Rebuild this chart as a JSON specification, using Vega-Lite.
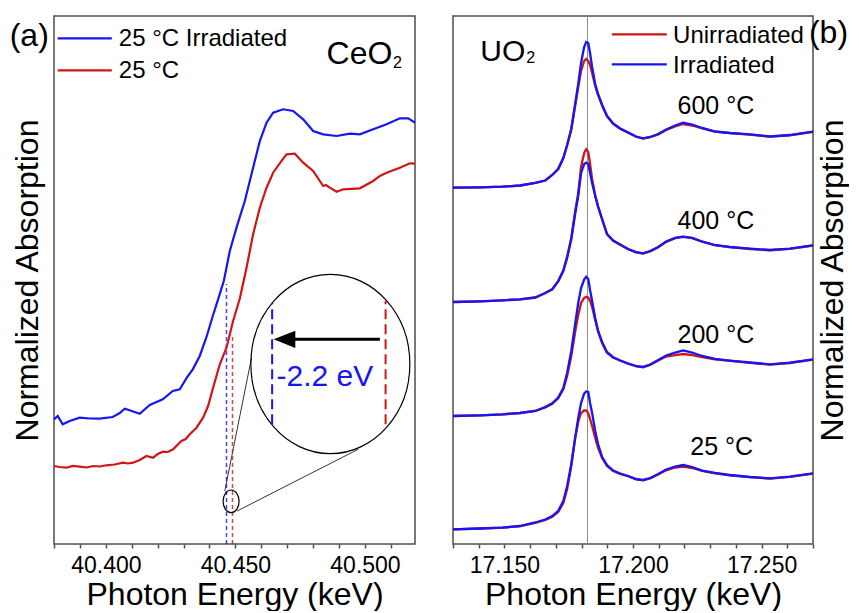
{
"$schema": "https://vega.github.io/schema/vega-lite/v6.json",
"background": "white",
"padding": {"left": 8, "top": 14, "right": 0, "bottom": 0},
"config": {
  "font": "Liberation Sans",
  "view": {"stroke": "#4d4d4d", "strokeWidth": 1.5},
  "axis": {"grid": false, "domain": false, "labelFont": "Liberation Sans", "labelFontSize": 23, "labelColor": "black", "titleFont": "Liberation Sans", "titleFontSize": 32, "titleFontWeight": "normal", "titleColor": "black", "tickColor": "#4d4d4d", "tickWidth": 1.5},
  "axisX": {"tickSize": 4, "labelPadding": 6, "titlePadding": 2, "labelOverlap": false, "labelFlush": false},
  "axisY": {"ticks": false, "labels": false, "titleFontSize": 32},
  "text": {"font": "Liberation Sans"}
},
"datasets": {
"ceo2": [
{"s":"Irr","E":40.38,"A":0.2834},{"s":"Irr","E":40.38143,"A":0.2909},{"s":"Irr","E":40.38336,"A":0.2720},{"s":"Irr","E":40.38606,"A":0.2795},{"s":"Irr","E":40.38992,"A":0.2870},{"s":"Irr","E":40.39378,"A":0.2852},{"s":"Irr","E":40.39764,"A":0.2848},{"s":"Irr","E":40.40266,"A":0.2886},{"s":"Irr","E":40.40537,"A":0.2977},{"s":"Irr","E":40.4073,"A":0.3075},{"s":"Irr","E":40.41,"A":0.3023},{"s":"Irr","E":40.41309,"A":0.2961},{"s":"Irr","E":40.41695,"A":0.3159},{"s":"Irr","E":40.42197,"A":0.3289},{"s":"Irr","E":40.42583,"A":0.3477},{"s":"Irr","E":40.42853,"A":0.3516},{"s":"Irr","E":40.43124,"A":0.3780},{"s":"Irr","E":40.43355,"A":0.3970},{"s":"Irr","E":40.43625,"A":0.4273},{"s":"Irr","E":40.43896,"A":0.4727},{"s":"Irr","E":40.44127,"A":0.5182},{"s":"Irr","E":40.44332,"A":0.5561},{"s":"Irr","E":40.44552,"A":0.5977},{"s":"Irr","E":40.44784,"A":0.6659},{"s":"Irr","E":40.45042,"A":0.7189},{"s":"Irr","E":40.45363,"A":0.7795},{"s":"Irr","E":40.45683,"A":0.8552},{"s":"Irr","E":40.45942,"A":0.9159},{"s":"Irr","E":40.46201,"A":0.9575},{"s":"Irr","E":40.46456,"A":0.9802},{"s":"Irr","E":40.46842,"A":0.9880},{"s":"Irr","E":40.47228,"A":0.9841},{"s":"Irr","E":40.47614,"A":0.9652},{"s":"Irr","E":40.48,"A":0.9386},{"s":"Irr","E":40.48386,"A":0.9311},{"s":"Irr","E":40.48903,"A":0.9273},{"s":"Irr","E":40.49417,"A":0.9325},{"s":"Irr","E":40.49803,"A":0.9311},{"s":"Irr","E":40.50317,"A":0.9425},{"s":"Irr","E":40.50834,"A":0.9539},{"s":"Irr","E":40.51347,"A":0.9675},{"s":"Irr","E":40.51668,"A":0.9675},{"s":"Irr","E":40.51927,"A":0.9575},
{"s":"Un","E":40.38,"A":0.1773},{"s":"Un","E":40.3822,"A":0.1750},{"s":"Un","E":40.38479,"A":0.1734},{"s":"Un","E":40.38722,"A":0.1773},{"s":"Un","E":40.38992,"A":0.1757},{"s":"Un","E":40.39263,"A":0.1739},{"s":"Un","E":40.39506,"A":0.1773},{"s":"Un","E":40.39764,"A":0.1761},{"s":"Un","E":40.40023,"A":0.1789},{"s":"Un","E":40.40344,"A":0.1807},{"s":"Un","E":40.40664,"A":0.1848},{"s":"Un","E":40.40846,"A":0.1830},{"s":"Un","E":40.4105,"A":0.1848},{"s":"Un","E":40.41309,"A":0.1909},{"s":"Un","E":40.41568,"A":0.2},{"s":"Un","E":40.41822,"A":0.1961},{"s":"Un","E":40.42004,"A":0.2045},{"s":"Un","E":40.42208,"A":0.2098},{"s":"Un","E":40.4239,"A":0.2091},{"s":"Un","E":40.42595,"A":0.2152},{"s":"Un","E":40.42919,"A":0.2341},{"s":"Un","E":40.43085,"A":0.2386},{"s":"Un","E":40.43239,"A":0.2493},{"s":"Un","E":40.43498,"A":0.2643},{"s":"Un","E":40.43753,"A":0.2870},{"s":"Un","E":40.43946,"A":0.3136},{"s":"Un","E":40.44139,"A":0.3552},{"s":"Un","E":40.44398,"A":0.4084},{"s":"Un","E":40.44656,"A":0.4461},{"s":"Un","E":40.44911,"A":0.5068},{"s":"Un","E":40.4517,"A":0.5580},{"s":"Un","E":40.45429,"A":0.6280},{"s":"Un","E":40.45683,"A":0.7039},{"s":"Un","E":40.45942,"A":0.7643},{"s":"Un","E":40.46201,"A":0.8098},{"s":"Un","E":40.46456,"A":0.8439},{"s":"Un","E":40.4678,"A":0.8705},{"s":"Un","E":40.46973,"A":0.8857},{"s":"Un","E":40.47293,"A":0.8870},{"s":"Un","E":40.47614,"A":0.8666},{"s":"Un","E":40.48,"A":0.8477},{"s":"Un","E":40.48386,"A":0.8136},{"s":"Un","E":40.4849,"A":0.8159},{"s":"Un","E":40.48645,"A":0.8098},{"s":"Un","E":40.48903,"A":0.8007},{"s":"Un","E":40.49158,"A":0.8061},{"s":"Un","E":40.49803,"A":0.8084},{"s":"Un","E":40.50317,"A":0.8250},{"s":"Un","E":40.50575,"A":0.8364},{"s":"Un","E":40.50834,"A":0.8439},{"s":"Un","E":40.51347,"A":0.8552},{"s":"Un","E":40.51734,"A":0.8652},{"s":"Un","E":40.51927,"A":0.8643}
],
"uo2": [
{"T":600,"s":"U","E":17.13,"A":0.8098},{"T":600,"s":"U","E":17.1406,"A":0.8107},{"T":600,"s":"U","E":17.1492,"A":0.8120},{"T":600,"s":"U","E":17.1561,"A":0.8148},{"T":600,"s":"U","E":17.162,"A":0.8205},{"T":600,"s":"U","E":17.1659,"A":0.8261},{"T":600,"s":"U","E":17.1686,"A":0.8386},{"T":600,"s":"U","E":17.1709,"A":0.8523},{"T":600,"s":"U","E":17.1729,"A":0.8773},{"T":600,"s":"U","E":17.1744,"A":0.9068},{"T":600,"s":"U","E":17.176,"A":0.9420},{"T":600,"s":"U","E":17.1775,"A":0.9955},{"T":600,"s":"U","E":17.1787,"A":1.0386},{"T":600,"s":"U","E":17.1798,"A":1.0750},{"T":600,"s":"U","E":17.181,"A":1.0977},{"T":600,"s":"U","E":17.1818,"A":1.1023},{"T":600,"s":"U","E":17.1826,"A":1.0977},{"T":600,"s":"U","E":17.1833,"A":1.0886},{"T":600,"s":"U","E":17.1841,"A":1.0705},{"T":600,"s":"U","E":17.1853,"A":1.0409},{"T":600,"s":"U","E":17.1864,"A":1.0205},{"T":600,"s":"U","E":17.188,"A":0.9966},{"T":600,"s":"U","E":17.1899,"A":0.9720},{"T":600,"s":"U","E":17.1923,"A":0.9550},{"T":600,"s":"U","E":17.195,"A":0.9440},{"T":600,"s":"U","E":17.1981,"A":0.9350},{"T":600,"s":"U","E":17.2012,"A":0.9255},{"T":600,"s":"U","E":17.2039,"A":0.9215},{"T":600,"s":"U","E":17.2067,"A":0.9245},{"T":600,"s":"U","E":17.2098,"A":0.9310},{"T":600,"s":"U","E":17.2129,"A":0.9410},{"T":600,"s":"U","E":17.2164,"A":0.9489},{"T":600,"s":"U","E":17.2195,"A":0.9545},{"T":600,"s":"U","E":17.223,"A":0.9511},{"T":600,"s":"U","E":17.2269,"A":0.9445},{"T":600,"s":"U","E":17.2319,"A":0.9370},{"T":600,"s":"U","E":17.2377,"A":0.9336},{"T":600,"s":"U","E":17.2455,"A":0.9306},{"T":600,"s":"U","E":17.2533,"A":0.9258},{"T":600,"s":"U","E":17.261,"A":0.9290},{"T":600,"s":"U","E":17.27,"A":0.9366},
{"T":600,"s":"I","E":17.13,"A":0.8098},{"T":600,"s":"I","E":17.1406,"A":0.8107},{"T":600,"s":"I","E":17.1492,"A":0.8120},{"T":600,"s":"I","E":17.1561,"A":0.8148},{"T":600,"s":"I","E":17.162,"A":0.8205},{"T":600,"s":"I","E":17.1659,"A":0.8261},{"T":600,"s":"I","E":17.1686,"A":0.8386},{"T":600,"s":"I","E":17.1709,"A":0.8523},{"T":600,"s":"I","E":17.1729,"A":0.8773},{"T":600,"s":"I","E":17.1744,"A":0.9068},{"T":600,"s":"I","E":17.176,"A":0.9432},{"T":600,"s":"I","E":17.1775,"A":1.0},{"T":600,"s":"I","E":17.1787,"A":1.0455},{"T":600,"s":"I","E":17.1798,"A":1.0932},{"T":600,"s":"I","E":17.181,"A":1.1295},{"T":600,"s":"I","E":17.1818,"A":1.1409},{"T":600,"s":"I","E":17.1826,"A":1.1386},{"T":600,"s":"I","E":17.1833,"A":1.1159},{"T":600,"s":"I","E":17.1841,"A":1.0841},{"T":600,"s":"I","E":17.1853,"A":1.0455},{"T":600,"s":"I","E":17.1864,"A":1.0227},{"T":600,"s":"I","E":17.188,"A":0.9977},{"T":600,"s":"I","E":17.1899,"A":0.9727},{"T":600,"s":"I","E":17.1923,"A":0.9557},{"T":600,"s":"I","E":17.195,"A":0.9443},{"T":600,"s":"I","E":17.1981,"A":0.9352},{"T":600,"s":"I","E":17.2012,"A":0.9261},{"T":600,"s":"I","E":17.2039,"A":0.9220},{"T":600,"s":"I","E":17.2067,"A":0.9250},{"T":600,"s":"I","E":17.2098,"A":0.9318},{"T":600,"s":"I","E":17.2129,"A":0.9420},{"T":600,"s":"I","E":17.2164,"A":0.9511},{"T":600,"s":"I","E":17.2195,"A":0.9575},{"T":600,"s":"I","E":17.223,"A":0.9534},{"T":600,"s":"I","E":17.2269,"A":0.9455},{"T":600,"s":"I","E":17.2319,"A":0.9375},{"T":600,"s":"I","E":17.2377,"A":0.9341},{"T":600,"s":"I","E":17.2455,"A":0.9311},{"T":600,"s":"I","E":17.2533,"A":0.9261},{"T":600,"s":"I","E":17.261,"A":0.9295},{"T":600,"s":"I","E":17.27,"A":0.9370},
{"T":400,"s":"U","E":17.13,"A":0.5500},{"T":400,"s":"U","E":17.1406,"A":0.5516},{"T":400,"s":"U","E":17.1492,"A":0.5539},{"T":400,"s":"U","E":17.1561,"A":0.5561},{"T":400,"s":"U","E":17.162,"A":0.5602},{"T":400,"s":"U","E":17.1659,"A":0.5705},{"T":400,"s":"U","E":17.1686,"A":0.5789},{"T":400,"s":"U","E":17.1709,"A":0.5975},{"T":400,"s":"U","E":17.1729,"A":0.6220},{"T":400,"s":"U","E":17.1744,"A":0.6530},{"T":400,"s":"U","E":17.176,"A":0.6960},{"T":400,"s":"U","E":17.1775,"A":0.7560},{"T":400,"s":"U","E":17.1787,"A":0.7977},{"T":400,"s":"U","E":17.1798,"A":0.8568},{"T":400,"s":"U","E":17.181,"A":0.8886},{"T":400,"s":"U","E":17.1818,"A":0.8970},{"T":400,"s":"U","E":17.1826,"A":0.8909},{"T":400,"s":"U","E":17.1833,"A":0.8636},{"T":400,"s":"U","E":17.1841,"A":0.8295},{"T":400,"s":"U","E":17.1853,"A":0.7932},{"T":400,"s":"U","E":17.1864,"A":0.7659},{"T":400,"s":"U","E":17.188,"A":0.7370},{"T":400,"s":"U","E":17.1899,"A":0.7035},{"T":400,"s":"U","E":17.1923,"A":0.6890},{"T":400,"s":"U","E":17.195,"A":0.6800},{"T":400,"s":"U","E":17.1981,"A":0.6698},{"T":400,"s":"U","E":17.2012,"A":0.6630},{"T":400,"s":"U","E":17.2039,"A":0.6600},{"T":400,"s":"U","E":17.2067,"A":0.6652},{"T":400,"s":"U","E":17.2098,"A":0.6743},{"T":400,"s":"U","E":17.2129,"A":0.6868},{"T":400,"s":"U","E":17.2164,"A":0.6950},{"T":400,"s":"U","E":17.2195,"A":0.6978},{"T":400,"s":"U","E":17.223,"A":0.6950},{"T":400,"s":"U","E":17.2269,"A":0.6870},{"T":400,"s":"U","E":17.2319,"A":0.6790},{"T":400,"s":"U","E":17.2377,"A":0.6745},{"T":400,"s":"U","E":17.2455,"A":0.6705},{"T":400,"s":"U","E":17.2533,"A":0.6676},{"T":400,"s":"U","E":17.261,"A":0.6705},{"T":400,"s":"U","E":17.27,"A":0.6784},
{"T":400,"s":"I","E":17.13,"A":0.5500},{"T":400,"s":"I","E":17.1406,"A":0.5516},{"T":400,"s":"I","E":17.1492,"A":0.5539},{"T":400,"s":"I","E":17.1561,"A":0.5561},{"T":400,"s":"I","E":17.162,"A":0.5602},{"T":400,"s":"I","E":17.1659,"A":0.5705},{"T":400,"s":"I","E":17.1686,"A":0.5789},{"T":400,"s":"I","E":17.1709,"A":0.5966},{"T":400,"s":"I","E":17.1729,"A":0.6205},{"T":400,"s":"I","E":17.1744,"A":0.6507},{"T":400,"s":"I","E":17.176,"A":0.6925},{"T":400,"s":"I","E":17.1775,"A":0.7500},{"T":400,"s":"I","E":17.1787,"A":0.7909},{"T":400,"s":"I","E":17.1798,"A":0.8432},{"T":400,"s":"I","E":17.181,"A":0.8636},{"T":400,"s":"I","E":17.1818,"A":0.8666},{"T":400,"s":"I","E":17.1826,"A":0.8636},{"T":400,"s":"I","E":17.1833,"A":0.8432},{"T":400,"s":"I","E":17.1841,"A":0.8205},{"T":400,"s":"I","E":17.1853,"A":0.7909},{"T":400,"s":"I","E":17.1864,"A":0.7682},{"T":400,"s":"I","E":17.188,"A":0.7386},{"T":400,"s":"I","E":17.1899,"A":0.7045},{"T":400,"s":"I","E":17.1923,"A":0.6898},{"T":400,"s":"I","E":17.195,"A":0.6807},{"T":400,"s":"I","E":17.1981,"A":0.6705},{"T":400,"s":"I","E":17.2012,"A":0.6636},{"T":400,"s":"I","E":17.2039,"A":0.6607},{"T":400,"s":"I","E":17.2067,"A":0.6659},{"T":400,"s":"I","E":17.2098,"A":0.6750},{"T":400,"s":"I","E":17.2129,"A":0.6875},{"T":400,"s":"I","E":17.2164,"A":0.6955},{"T":400,"s":"I","E":17.2195,"A":0.6984},{"T":400,"s":"I","E":17.223,"A":0.6955},{"T":400,"s":"I","E":17.2269,"A":0.6875},{"T":400,"s":"I","E":17.2319,"A":0.6795},{"T":400,"s":"I","E":17.2377,"A":0.6750},{"T":400,"s":"I","E":17.2455,"A":0.6711},{"T":400,"s":"I","E":17.2533,"A":0.6682},{"T":400,"s":"I","E":17.261,"A":0.6711},{"T":400,"s":"I","E":17.27,"A":0.6789},
{"T":200,"s":"U","E":17.13,"A":0.2909},{"T":200,"s":"U","E":17.1406,"A":0.2925},{"T":200,"s":"U","E":17.1492,"A":0.2948},{"T":200,"s":"U","E":17.1561,"A":0.2977},{"T":200,"s":"U","E":17.162,"A":0.3023},{"T":200,"s":"U","E":17.1659,"A":0.3105},{"T":200,"s":"U","E":17.1686,"A":0.3185},{"T":200,"s":"U","E":17.1709,"A":0.3310},{"T":200,"s":"U","E":17.1729,"A":0.3515},{"T":200,"s":"U","E":17.1744,"A":0.3818},{"T":200,"s":"U","E":17.176,"A":0.4273},{"T":200,"s":"U","E":17.1775,"A":0.4818},{"T":200,"s":"U","E":17.1787,"A":0.5205},{"T":200,"s":"U","E":17.1798,"A":0.5477},{"T":200,"s":"U","E":17.181,"A":0.5591},{"T":200,"s":"U","E":17.1818,"A":0.5614},{"T":200,"s":"U","E":17.1826,"A":0.5602},{"T":200,"s":"U","E":17.1833,"A":0.5523},{"T":200,"s":"U","E":17.1841,"A":0.5386},{"T":200,"s":"U","E":17.1853,"A":0.5091},{"T":200,"s":"U","E":17.1864,"A":0.4841},{"T":200,"s":"U","E":17.188,"A":0.4591},{"T":200,"s":"U","E":17.1899,"A":0.4364},{"T":200,"s":"U","E":17.1923,"A":0.4245},{"T":200,"s":"U","E":17.195,"A":0.4170},{"T":200,"s":"U","E":17.1981,"A":0.4100},{"T":200,"s":"U","E":17.2012,"A":0.4040},{"T":200,"s":"U","E":17.2039,"A":0.4018},{"T":200,"s":"U","E":17.2067,"A":0.4072},{"T":200,"s":"U","E":17.2098,"A":0.4170},{"T":200,"s":"U","E":17.2129,"A":0.4260},{"T":200,"s":"U","E":17.2164,"A":0.4295},{"T":200,"s":"U","E":17.2195,"A":0.4318},{"T":200,"s":"U","E":17.223,"A":0.4295},{"T":200,"s":"U","E":17.2269,"A":0.4250},{"T":200,"s":"U","E":17.2319,"A":0.4195},{"T":200,"s":"U","E":17.2377,"A":0.4162},{"T":200,"s":"U","E":17.2455,"A":0.4118},{"T":200,"s":"U","E":17.2533,"A":0.4078},{"T":200,"s":"U","E":17.261,"A":0.4114},{"T":200,"s":"U","E":17.27,"A":0.4192},
{"T":200,"s":"I","E":17.13,"A":0.2909},{"T":200,"s":"I","E":17.1406,"A":0.2925},{"T":200,"s":"I","E":17.1492,"A":0.2948},{"T":200,"s":"I","E":17.1561,"A":0.2977},{"T":200,"s":"I","E":17.162,"A":0.3023},{"T":200,"s":"I","E":17.1659,"A":0.3114},{"T":200,"s":"I","E":17.1686,"A":0.3198},{"T":200,"s":"I","E":17.1709,"A":0.3330},{"T":200,"s":"I","E":17.1729,"A":0.3545},{"T":200,"s":"I","E":17.1744,"A":0.3893},{"T":200,"s":"I","E":17.176,"A":0.4386},{"T":200,"s":"I","E":17.1775,"A":0.5000},{"T":200,"s":"I","E":17.1787,"A":0.5477},{"T":200,"s":"I","E":17.1798,"A":0.5818},{"T":200,"s":"I","E":17.181,"A":0.6011},{"T":200,"s":"I","E":17.1818,"A":0.6075},{"T":200,"s":"I","E":17.1826,"A":0.6023},{"T":200,"s":"I","E":17.1833,"A":0.5773},{"T":200,"s":"I","E":17.1841,"A":0.5523},{"T":200,"s":"I","E":17.1853,"A":0.5136},{"T":200,"s":"I","E":17.1864,"A":0.4841},{"T":200,"s":"I","E":17.188,"A":0.4568},{"T":200,"s":"I","E":17.1899,"A":0.4348},{"T":200,"s":"I","E":17.1923,"A":0.4239},{"T":200,"s":"I","E":17.195,"A":0.4170},{"T":200,"s":"I","E":17.1981,"A":0.4102},{"T":200,"s":"I","E":17.2012,"A":0.4045},{"T":200,"s":"I","E":17.2039,"A":0.4023},{"T":200,"s":"I","E":17.2067,"A":0.4080},{"T":200,"s":"I","E":17.2098,"A":0.4182},{"T":200,"s":"I","E":17.2129,"A":0.4284},{"T":200,"s":"I","E":17.2164,"A":0.4352},{"T":200,"s":"I","E":17.2195,"A":0.4398},{"T":200,"s":"I","E":17.223,"A":0.4352},{"T":200,"s":"I","E":17.2269,"A":0.4273},{"T":200,"s":"I","E":17.2319,"A":0.4205},{"T":200,"s":"I","E":17.2377,"A":0.4170},{"T":200,"s":"I","E":17.2455,"A":0.4125},{"T":200,"s":"I","E":17.2533,"A":0.4084},{"T":200,"s":"I","E":17.261,"A":0.4120},{"T":200,"s":"I","E":17.27,"A":0.4198},
{"T":25,"s":"U","E":17.13,"A":0.0334},{"T":25,"s":"U","E":17.1406,"A":0.0352},{"T":25,"s":"U","E":17.1492,"A":0.0370},{"T":25,"s":"U","E":17.1561,"A":0.0409},{"T":25,"s":"U","E":17.162,"A":0.0480},{"T":25,"s":"U","E":17.1659,"A":0.0545},{"T":25,"s":"U","E":17.1686,"A":0.0620},{"T":25,"s":"U","E":17.1709,"A":0.0725},{"T":25,"s":"U","E":17.1729,"A":0.0932},{"T":25,"s":"U","E":17.1744,"A":0.1250},{"T":25,"s":"U","E":17.176,"A":0.1773},{"T":25,"s":"U","E":17.1775,"A":0.2409},{"T":25,"s":"U","E":17.1787,"A":0.2773},{"T":25,"s":"U","E":17.1798,"A":0.2977},{"T":25,"s":"U","E":17.181,"A":0.3034},{"T":25,"s":"U","E":17.1818,"A":0.3034},{"T":25,"s":"U","E":17.1826,"A":0.2977},{"T":25,"s":"U","E":17.1833,"A":0.2841},{"T":25,"s":"U","E":17.1841,"A":0.2682},{"T":25,"s":"U","E":17.1853,"A":0.2409},{"T":25,"s":"U","E":17.1864,"A":0.2182},{"T":25,"s":"U","E":17.188,"A":0.1955},{"T":25,"s":"U","E":17.1899,"A":0.1773},{"T":25,"s":"U","E":17.1923,"A":0.1660},{"T":25,"s":"U","E":17.195,"A":0.1595},{"T":25,"s":"U","E":17.1981,"A":0.1540},{"T":25,"s":"U","E":17.2012,"A":0.1470},{"T":25,"s":"U","E":17.2039,"A":0.1448},{"T":25,"s":"U","E":17.2067,"A":0.1493},{"T":25,"s":"U","E":17.2098,"A":0.1580},{"T":25,"s":"U","E":17.2129,"A":0.1675},{"T":25,"s":"U","E":17.2164,"A":0.1739},{"T":25,"s":"U","E":17.2195,"A":0.1761},{"T":25,"s":"U","E":17.223,"A":0.1727},{"T":25,"s":"U","E":17.2269,"A":0.1660},{"T":25,"s":"U","E":17.2319,"A":0.1607},{"T":25,"s":"U","E":17.2377,"A":0.1562},{"T":25,"s":"U","E":17.2455,"A":0.1518},{"T":25,"s":"U","E":17.2533,"A":0.1488},{"T":25,"s":"U","E":17.261,"A":0.1525},{"T":25,"s":"U","E":17.27,"A":0.1600},
{"T":25,"s":"I","E":17.13,"A":0.0334},{"T":25,"s":"I","E":17.1406,"A":0.0352},{"T":25,"s":"I","E":17.1492,"A":0.0370},{"T":25,"s":"I","E":17.1561,"A":0.0409},{"T":25,"s":"I","E":17.162,"A":0.0489},{"T":25,"s":"I","E":17.1659,"A":0.0557},{"T":25,"s":"I","E":17.1686,"A":0.0636},{"T":25,"s":"I","E":17.1709,"A":0.0750},{"T":25,"s":"I","E":17.1729,"A":0.0977},{"T":25,"s":"I","E":17.1744,"A":0.1318},{"T":25,"s":"I","E":17.176,"A":0.1818},{"T":25,"s":"I","E":17.1775,"A":0.2409},{"T":25,"s":"I","E":17.1787,"A":0.2864},{"T":25,"s":"I","E":17.1798,"A":0.3205},{"T":25,"s":"I","E":17.181,"A":0.3420},{"T":25,"s":"I","E":17.1818,"A":0.3466},{"T":25,"s":"I","E":17.1826,"A":0.3455},{"T":25,"s":"I","E":17.1833,"A":0.3205},{"T":25,"s":"I","E":17.1841,"A":0.2977},{"T":25,"s":"I","E":17.1853,"A":0.2568},{"T":25,"s":"I","E":17.1864,"A":0.2273},{"T":25,"s":"I","E":17.188,"A":0.1977},{"T":25,"s":"I","E":17.1899,"A":0.1795},{"T":25,"s":"I","E":17.1923,"A":0.1670},{"T":25,"s":"I","E":17.195,"A":0.1602},{"T":25,"s":"I","E":17.1981,"A":0.1545},{"T":25,"s":"I","E":17.2012,"A":0.1477},{"T":25,"s":"I","E":17.2039,"A":0.1455},{"T":25,"s":"I","E":17.2067,"A":0.1500},{"T":25,"s":"I","E":17.2098,"A":0.1591},{"T":25,"s":"I","E":17.2129,"A":0.1693},{"T":25,"s":"I","E":17.2164,"A":0.1761},{"T":25,"s":"I","E":17.2195,"A":0.1795},{"T":25,"s":"I","E":17.223,"A":0.1750},{"T":25,"s":"I","E":17.2269,"A":0.1670},{"T":25,"s":"I","E":17.2319,"A":0.1614},{"T":25,"s":"I","E":17.2377,"A":0.1568},{"T":25,"s":"I","E":17.2455,"A":0.1523},{"T":25,"s":"I","E":17.2533,"A":0.1493},{"T":25,"s":"I","E":17.261,"A":0.1530},{"T":25,"s":"I","E":17.27,"A":0.1607}
]
},
"spacing": 38,
"bounds": "flush",
"resolve": {"scale": {"color": "independent", "x": "independent", "y": "independent"}},
"hconcat": [
{
  "width": 361, "height": 528,
  "encoding": {
    "x": {"field": "E", "type": "quantitative", "scale": {"domain": [40.38, 40.5193], "nice": false, "zero": false},
          "axis": {"title": "Photon Energy (keV)", "values": [40.38,40.39,40.4,40.41,40.42,40.43,40.44,40.45,40.46,40.47,40.48,40.49,40.5,40.51], "labelExpr": "round(datum.value*1000) % 50 === 0 ? format(datum.value, '.3f') : ''"}},
    "y": {"field": "A", "type": "quantitative", "scale": {"domain": [0, 1.2], "nice": false, "zero": false},
          "axis": {"title": "Normalized Absorption", "titlePadding": 10}}
  },
  "layer": [
    {"data": {"values": [{"E": 40.44591, "A": 0.1205, "E2": 40.45622, "A2": 0.4234}, {"E": 40.45066, "A": 0.075, "E2": 40.49737, "A2": 0.2152}]},
     "mark": {"type": "rule", "color": "black", "strokeWidth": 0.8},
     "encoding": {"x2": {"field": "E2"}, "y2": {"field": "A2"}}},
    {"data": {"values": [{"s": "Irr", "E": 40.44656, "A": 0, "A2": 0.5909}, {"s": "Un", "E": 40.44888, "A": 0, "A2": 0.4727}]},
     "mark": {"type": "rule", "strokeWidth": 1.5, "strokeDash": [4, 3], "opacity": 0.8},
     "encoding": {"y2": {"field": "A2"}, "color": {"field": "s", "type": "nominal", "scale": {"domain": ["Irr", "Un"], "range": ["#1515f5", "#d01515"]}, "legend": null}}},
    {"data": {"name": "ceo2"},
     "mark": {"type": "line", "strokeWidth": 2.2},
     "encoding": {"color": {"field": "s", "type": "nominal", "scale": {"domain": ["Irr", "Un"], "range": ["#1515f5", "#d01515"]}, "legend": null}}},
    {"data": {"values": [{"E": 40.48664, "A": 0.4091}]},
     "mark": {"type": "point", "shape": "M0.886,0C0.886,0.552 0.489,1 0,1C-0.489,1 -0.886,0.552 -0.886,0C-0.886,-0.552 -0.489,-1 0,-1C0.489,-1 0.886,-0.552 0.886,0Z", "size": 32184, "filled": false, "color": "black", "strokeWidth": 1.2, "opacity": 1}},
    {"data": {"values": [{"E": 40.44834, "A": 0.097}]},
     "mark": {"type": "point", "shape": "M0.708,0C0.708,0.552 0.391,1 0,1C-0.391,1 -0.708,0.552 -0.708,0C-0.708,-0.552 -0.391,-1 0,-1C0.391,-1 0.708,-0.552 0.708,0Z", "size": 511, "filled": false, "color": "black", "strokeWidth": 1.2, "opacity": 1}},
    {"data": {"values": [{"s": "Irr", "E": 40.46417, "A": 0.272, "A2": 0.5484}, {"s": "Un", "E": 40.50795, "A": 0.272, "A2": 0.5523}]},
     "mark": {"type": "rule", "strokeWidth": 2, "strokeDash": [10, 5]},
     "encoding": {"y2": {"field": "A2"}, "color": {"field": "s", "type": "nominal", "scale": {"domain": ["Irr", "Un"], "range": ["#1515f5", "#d01515"]}, "legend": null}}},
    {"data": {"values": [{"E": 40.50575, "A": 0.4652, "E2": 40.471}]},
     "mark": {"type": "rule", "color": "black", "strokeWidth": 3},
     "encoding": {"x2": {"field": "E2"}}},
    {"data": {"values": [{"E": 40.46894, "A": 0.4652}]},
     "mark": {"type": "point", "shape": "M-1,0L1,-0.8L1,0.8Z", "size": 467, "filled": true, "color": "black", "opacity": 1}},
    {"data": {"values": [{"E": 40.48455, "A": 0.359, "t": "-2.2 eV"}]},
     "mark": {"type": "text", "align": "center", "baseline": "alphabetic", "fontSize": 30, "color": "#1515f5"},
     "encoding": {"text": {"field": "t"}}},
    {"data": {"values": [{"s": "Irr", "E": 40.3814, "E2": 40.4023, "A": 1.1493}, {"s": "Un", "E": 40.3814, "E2": 40.4023, "A": 1.0766}]},
     "mark": {"type": "rule", "strokeWidth": 2.2},
     "encoding": {"x2": {"field": "E2"}, "color": {"field": "s", "type": "nominal", "scale": {"domain": ["Irr", "Un"], "range": ["#1515f5", "#d01515"]}, "legend": null}}},
    {"data": {"values": [{"E": 40.405, "A": 1.1318, "t": "25 °C Irradiated"}, {"E": 40.405, "A": 1.0584, "t": "25 °C"}]},
     "mark": {"type": "text", "align": "left", "baseline": "alphabetic", "fontSize": 24, "color": "black"},
     "encoding": {"text": {"field": "t"}}},
    {"data": {"values": [{"E": 40.48517, "A": 1.0902, "t": "CeO"}]},
     "mark": {"type": "text", "align": "left", "baseline": "alphabetic", "fontSize": 32, "color": "black"},
     "encoding": {"text": {"field": "t"}}},
    {"data": {"values": [{"E": 40.51077, "A": 1.0811, "t": "2"}]},
     "mark": {"type": "text", "align": "left", "baseline": "alphabetic", "fontSize": 16, "color": "black"},
     "encoding": {"text": {"field": "t"}}},
    {"data": {"values": [{"E": 40.3629, "A": 1.1318, "t": "(a)"}]},
     "mark": {"type": "text", "align": "left", "baseline": "alphabetic", "fontSize": 32, "color": "black"},
     "encoding": {"text": {"field": "t"}}}
  ]
},
{
  "width": 360, "height": 528,
  "encoding": {
    "x": {"field": "E", "type": "quantitative", "scale": {"domain": [17.13, 17.27], "nice": false, "zero": false},
          "axis": {"title": "Photon Energy (keV)", "values": [17.13,17.14,17.15,17.16,17.17,17.18,17.19,17.2,17.21,17.22,17.23,17.24,17.25,17.26,17.27], "labelExpr": "round(datum.value*1000) % 50 === 0 ? format(datum.value, '.3f') : ''"}},
    "y": {"field": "A", "type": "quantitative", "scale": {"domain": [0, 1.2], "nice": false, "zero": false},
          "axis": {"orient": "right", "title": "Normalized Absorption", "titleAngle": 270, "titleBaseline": "top", "titlePadding": 4}}
  },
  "layer": [
    {"data": {"values": [{"E": 17.1823, "A": 0, "A2": 1.2}]},
     "mark": {"type": "rule", "color": "#8c8c8c", "strokeWidth": 1},
     "encoding": {"y2": {"field": "A2"}}},
    {"data": {"name": "uo2"},
     "transform": [{"filter": "datum.s === 'U'"}],
     "mark": {"type": "line", "strokeWidth": 2.3},
     "encoding": {"detail": {"field": "T", "type": "nominal"}, "color": {"field": "s", "type": "nominal", "scale": {"domain": ["U", "I"], "range": ["#d01515", "#1515f5"]}, "legend": null}}},
    {"data": {"name": "uo2"},
     "transform": [{"filter": "datum.s === 'I'"}],
     "mark": {"type": "line", "strokeWidth": 2.3},
     "encoding": {"detail": {"field": "T", "type": "nominal"}, "color": {"field": "s", "type": "nominal", "scale": {"domain": ["U", "I"], "range": ["#d01515", "#1515f5"]}, "legend": null}}},
    {"data": {"values": [{"s": "U", "E": 17.19177, "E2": 17.21314, "A": 1.1584}, {"s": "I", "E": 17.19177, "E2": 17.21314, "A": 1.0902}]},
     "mark": {"type": "rule", "strokeWidth": 2.2},
     "encoding": {"x2": {"field": "E2"}, "color": {"field": "s", "type": "nominal", "scale": {"domain": ["U", "I"], "range": ["#d01515", "#1515f5"]}, "legend": null}}},
    {"data": {"values": [{"E": 17.21559, "A": 1.1393, "t": "Unirradiated"}, {"E": 17.21559, "A": 1.0711, "t": "Irradiated"}]},
     "mark": {"type": "text", "align": "left", "baseline": "alphabetic", "fontSize": 24, "color": "black"},
     "encoding": {"text": {"field": "t"}}},
    {"data": {"values": [{"E": 17.23222, "A": 0.9766, "t": "600 °C"}, {"E": 17.23222, "A": 0.7152, "t": "400 °C"}, {"E": 17.23222, "A": 0.4575, "t": "200 °C"}, {"E": 17.2345, "A": 0.2023, "t": "25 °C"}]},
     "mark": {"type": "text", "align": "center", "baseline": "alphabetic", "fontSize": 25, "color": "black"},
     "encoding": {"text": {"field": "t"}}},
    {"data": {"values": [{"E": 17.14061, "A": 1.0977, "t": "UO"}]},
     "mark": {"type": "text", "align": "left", "baseline": "alphabetic", "fontSize": 30, "color": "black"},
     "encoding": {"text": {"field": "t"}}},
    {"data": {"values": [{"E": 17.15848, "A": 1.0932, "t": "2"}]},
     "mark": {"type": "text", "align": "left", "baseline": "alphabetic", "fontSize": 16, "color": "black"},
     "encoding": {"text": {"field": "t"}}},
    {"data": {"values": [{"E": 17.26842, "A": 1.1393, "t": "(b)"}]},
     "mark": {"type": "text", "align": "left", "baseline": "alphabetic", "fontSize": 32, "color": "black"},
     "encoding": {"text": {"field": "t"}}}
  ]
}
]
}
